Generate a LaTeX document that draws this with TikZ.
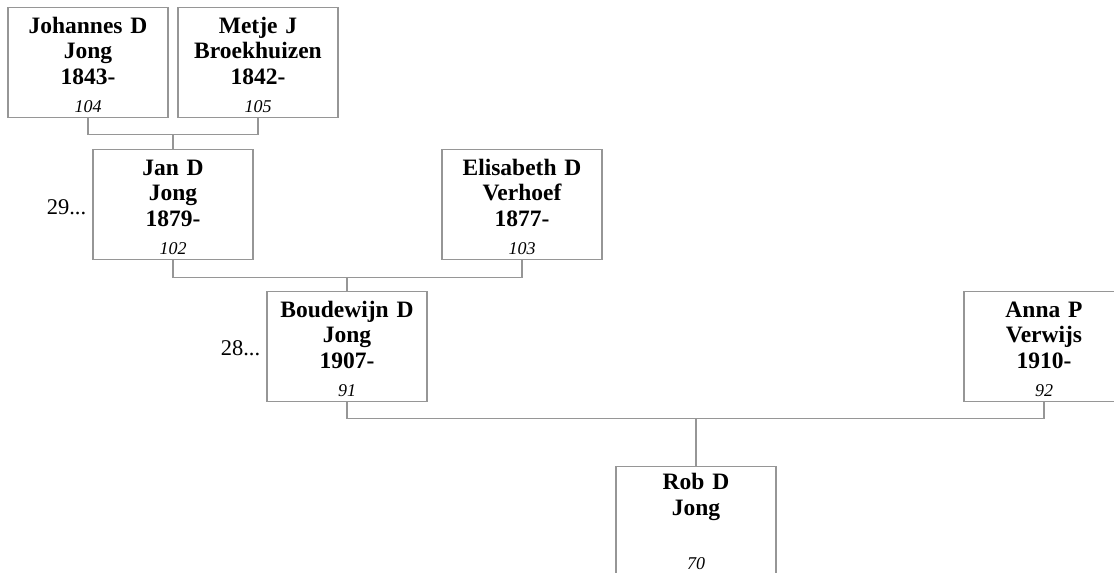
\documentclass[tikz,border=0pt]{standalone}
\usepackage{fontspec}
\setmainfont{Liberation Serif}
\usetikzlibrary{positioning}
\definecolor{boxgray}{RGB}{150,150,150}
\tikzset{
  person/.style={draw=boxgray,line width=1.2pt,rectangle,anchor=north,
    minimum width=160pt,minimum height=110pt,text width=150pt,
    inner xsep=5pt,inner ysep=2pt,
    align=center,font=\fontsize{23.5}{25.5}\selectfont\bfseries,
    execute at begin node=\rule{0pt}{21pt}},
  tie/.style={draw=boxgray,line width=1.2pt},
  more/.style={inner sep=0pt,font=\fontsize{22.5}{24}\selectfont}
}
\newcommand{\recno}[1]{\\[3pt]{\fontsize{18}{18}\selectfont\mdseries\itshape #1}}
\begin{document}
\begin{tikzpicture}[x=1pt,y=-1pt]
\useasboundingbox (0,0) rectangle (1114,573);
\clip (0,0) rectangle (1114,573);

\node[person] (104) at (88,7) {Johannes D\\Jong\\1843-\recno{104}};

\node[person] (105) at (258,7) {Metje J\\Broekhuizen\\1842-\recno{105}};

\node[person] (102) at (173,149) {Jan D\\Jong\\1879-\recno{102}};

\node[person] (103) at (522,149) {Elisabeth D\\Verhoef\\1877-\recno{103}};

\node[person] (91) at (347,291) {Boudewijn D\\Jong\\1907-\recno{91}};

\node[person] (92) at (1044,291) {Anna P\\Verwijs\\1910-\recno{92}};

\node[person] (70) at (696,466) {Rob D\\Jong\\\mbox{}\recno{70\rule[-6pt]{0pt}{6pt}}};

\node[more,left=6pt of 102,yshift=-3pt] (more102) {29...};
\node[more,left=6pt of 91,yshift=-2pt] (more91) {28...};

\draw[tie] (104.south) -- ++(0,16) coordinate (bar102) -| (105.south);
\draw[tie] (102.north) -- (102.north |- bar102);
\draw[tie] (102.south) -- ++(0,17) coordinate (bar91) -| (103.south);
\draw[tie] (91.north) -- (91.north |- bar91);
\draw[tie] (91.south) -- ++(0,16) coordinate (bar70) -| (92.south);
\draw[tie] (70.north) -- (70.north |- bar70);

\end{tikzpicture}
\end{document}
